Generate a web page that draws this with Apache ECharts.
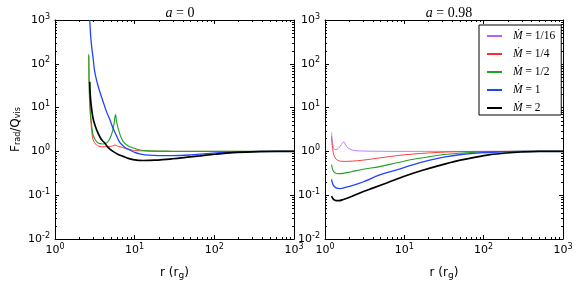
<!DOCTYPE html>
<html>
<head>
<meta charset="utf-8">
<script src="https://cdn.jsdelivr.net/npm/echarts/dist/echarts.min.js"></script>
<style>html,body{margin:0;padding:0;background:#fff}#c{width:581px;height:289px}</style>
</head>
<body>
<div id="c"></div>
<script>
// ---- data: [r (r_g), F_rad/Q_vis] ----
const a0_Mdot1_4 = [[2.66,150],[2.7,30],[2.78,7],[2.9,2.8],[3.0,1.87],[3.31,1.4],[3.83,1.28],[4.63,1.28],[5.3,1.33],[5.65,1.4],[6.1,1.32],[7.15,1.22],[8.5,1.1],[10,1.05],[14,1.02],[25,1.0],[100,1.0],[1000,1.0]];
const a0_Mdot1_2 = [[2.65,165],[2.66,80],[2.67,39],[2.72,14],[2.79,6.9],[2.88,4],[3.0,2.4],[3.2,1.85],[3.47,1.55],[4.0,1.48],[4.43,1.55],[4.8,1.85],[5.11,2.4],[5.45,3.8],[5.74,6.9],[5.95,4.6],[6.2,3.4],[6.6,2.3],[7.15,1.7],[8.2,1.35],[9.55,1.2],[11.6,1.08],[15,1.03],[30,1.01],[100,1.0],[1000,1.0]];
const a0_Mdot1 = [[2.73,1000],[2.8,450],[2.87,270],[3.0,140],[3.15,66],[3.4,36],[3.65,23],[4.0,14],[4.43,8.1],[4.9,5.2],[5.35,3.4],[5.9,2.3],[6.5,1.6],[7.5,1.25],[8.7,1.08],[10,0.95],[12,0.87],[15,0.82],[20,0.8],[30,0.8],[50,0.83],[80,0.89],[120,0.94],[200,0.98],[400,1.0],[1000,1.0]];
const a0_Mdot2 = [[2.73,39],[2.76,22],[2.81,14],[2.9,8.5],[3.0,5.7],[3.2,3.8],[3.47,2.6],[3.8,1.9],[4.21,1.55],[4.7,1.2],[5.35,1.0],[6.2,0.85],[7.15,0.77],[8.2,0.7],[9.55,0.65],[12.7,0.62],[18,0.63],[30,0.68],[50,0.75],[66,0.79],[100,0.86],[173,0.94],[300,0.98],[600,1.0],[1000,1.0]];

const a98_Mdot1_16 = [[1.21,2.7],[1.24,1.6],[1.28,1.2],[1.33,1.1],[1.42,1.12],[1.52,1.25],[1.62,1.45],[1.72,1.65],[1.82,1.4],[1.95,1.2],[2.2,1.08],[2.6,1.03],[4,1.01],[10,1.0],[100,1.0],[1000,1.0]];
const a98_Mdot1_4 = [[1.21,2.2],[1.23,1.4],[1.27,0.95],[1.32,0.75],[1.4,0.65],[1.55,0.6],[1.8,0.59],[2.2,0.6],[3,0.63],[4.9,0.71],[8,0.8],[12.9,0.87],[20,0.92],[35,0.97],[60,0.99],[120,1.0],[1000,1.0]];
const a98_Mdot1_2 = [[1.21,0.5],[1.24,0.4],[1.28,0.35],[1.35,0.32],[1.45,0.31],[1.7,0.315],[2.1,0.34],[3,0.39],[4.9,0.45],[8,0.55],[13,0.66],[20,0.75],[34,0.86],[60,0.93],[89,0.96],[150,0.99],[300,1.0],[1000,1.0]];
const a98_Mdot1 = [[1.21,0.23],[1.25,0.18],[1.3,0.16],[1.4,0.145],[1.55,0.142],[1.8,0.15],[2.3,0.17],[3,0.2],[4.9,0.29],[8,0.38],[13,0.5],[21,0.63],[34,0.76],[55,0.86],[90,0.93],[150,0.97],[300,1.0],[1000,1.0]];
const a98_Mdot2 = [[1.21,0.095],[1.25,0.085],[1.3,0.079],[1.4,0.075],[1.5,0.075],[1.7,0.08],[2.2,0.095],[3,0.12],[4,0.145],[6,0.19],[10,0.27],[17,0.37],[28,0.48],[45,0.6],[74,0.72],[120,0.84],[193,0.92],[300,0.97],[500,1.0],[1000,1.0]];

const seriesNames = ['1/16','1/4','1/2','1','2'];
const xMinorTicks = [2,3,4,5,6,7,8,9,20,30,40,50,60,70,80,90,200,300,400,500,600,700,800,900];
const yMinorTicks = [0.02,0.03,0.04,0.05,0.06,0.07,0.08,0.09,0.2,0.3,0.4,0.5,0.6,0.7,0.8,0.9,2,3,4,5,6,7,8,9,20,30,40,50,60,70,80,90,200,300,400,500,600,700,800,900];
const titles = ['0','0.98'];

// ---- styling ----
const colors = {'1/16':'#b060ff','1/4':'#ff2a2a','1/2':'#22a022','1':'#2244ff','2':'#000000'};
const widths = {'1/16':0.8,'1/4':0.9,'1/2':1.1,'1':1.3,'2':1.7};
const SANS = 'DejaVu Sans';
const SERIF = 'Liberation Serif, DejaVu Serif, serif';

const labelRich = {
  b:{fontFamily:SANS,fontSize:11,color:'#000',lineHeight:15},
  s:{fontFamily:SANS,fontSize:8,color:'#000',verticalAlign:'top',lineHeight:8}
};
function powLabel(v){
  const e = Math.round(Math.log10(v));
  return '{b|10}{s|' + e + '}';
}

const chart = echarts.init(document.getElementById('c'), null, {renderer:'canvas'});

function xAxisDef(grid, pos, showLabel){
  return {
    type:'log', logBase:10, min:1, max:1000, gridIndex:grid, position:pos,
    axisLine:{show:true, lineStyle:{color:'#000', width:1}},
    axisTick:{show:true, inside:true, length:4, lineStyle:{color:'#000', width:1}},
    axisLabel:{show:showLabel, formatter:powLabel, rich:labelRich, margin:4},
    splitLine:{show:false},
    name: showLabel ? '{b|r (r}{sub|g}{b|)}' : '',
    nameLocation:'middle', nameGap:26,
    nameTextStyle:{rich:{b:{fontFamily:SANS,fontSize:12,color:'#000'},sub:{fontFamily:SANS,fontSize:9,color:'#000',verticalAlign:'bottom',padding:[6,0,0,0]}}}
  };
}
function yAxisDef(grid, pos, showLabel, showName){
  return {
    type:'log', logBase:10, min:0.01, max:1000, gridIndex:grid, position:pos,
    axisLine:{show:true, lineStyle:{color:'#000', width:1}},
    axisTick:{show:true, inside:true, length:4, lineStyle:{color:'#000', width:1}},
    axisLabel:{show:showLabel, formatter:powLabel, rich:labelRich, margin:5},
    splitLine:{show:false},
    name: showName ? '{b|F}{sub|rad}{b|/Q}{sub|vis}' : '',
    nameLocation:'middle', nameGap:33, nameRotate:90,
    nameTextStyle:{rich:{b:{fontFamily:SANS,fontSize:12,color:'#000'},sub:{fontFamily:SANS,fontSize:8,color:'#000',verticalAlign:'bottom',padding:[5,0,0,0]}}}
  };
}

function lineSeries(name, data, xi, yi){
  return {
    type:'line', name:name, data:data, xAxisIndex:xi, yAxisIndex:yi,
    showSymbol:false, symbol:'none', smooth:0.35, clip:true,
    lineStyle:{color:colors[name], width:widths[name]},
    itemStyle:{color:colors[name]}, z:3
  };
}

function minorSeries(xi, yi){
  return [
    {
      type:'custom', xAxisIndex:xi, yAxisIndex:yi, silent:true, clip:false, z:4,
      data: xMinorTicks.map(v=>[v,1]),
      renderItem:function(params, api){
        const cs = params.coordSys;
        const x = Math.round(api.coord([api.value(0),1])[0]) + 0.5;
        const st = {stroke:'#000', lineWidth:1};
        return {type:'group', children:[
          {type:'line', shape:{x1:x,y1:cs.y+cs.height,x2:x,y2:cs.y+cs.height-2}, style:st},
          {type:'line', shape:{x1:x,y1:cs.y,x2:x,y2:cs.y+2}, style:st}
        ]};
      }
    },
    {
      type:'custom', xAxisIndex:xi, yAxisIndex:yi, silent:true, clip:false, z:4,
      data: yMinorTicks.map(v=>[10,v]),
      renderItem:function(params, api){
        const cs = params.coordSys;
        const y = Math.round(api.coord([10,api.value(1)])[1]) + 0.5;
        const st = {stroke:'#000', lineWidth:1};
        return {type:'group', children:[
          {type:'line', shape:{x1:cs.x,y1:y,x2:cs.x+2,y2:y}, style:st},
          {type:'line', shape:{x1:cs.x+cs.width,y1:y,x2:cs.x+cs.width-2,y2:y}, style:st}
        ]};
      }
    }
  ];
}

const titleRich = {
  i:{fontFamily:SERIF,fontStyle:'italic',fontWeight:'normal',fontSize:14,color:'#000'},
  n:{fontFamily:SERIF,fontWeight:'normal',fontSize:14,color:'#000'}
};

const option = {
  animation:false,
  backgroundColor:'#fff',
  title: titles.map((t,k)=>({
    text:'{i|a}{n| = ' + t + '}', left: k===0 ? 175 : 444, top:1, textAlign:'center',
    textStyle:{fontWeight:'normal', rich:titleRich}
  })),
  grid:[
    {left:55, top:20, width:239, height:219},
    {left:325, top:20, width:238, height:219}
  ],
  xAxis:[xAxisDef(0,'bottom',true), xAxisDef(0,'top',false), xAxisDef(1,'bottom',true), xAxisDef(1,'top',false)],
  yAxis:[yAxisDef(0,'left',true,true), yAxisDef(0,'right',false,false), yAxisDef(1,'left',true,false), yAxisDef(1,'right',false,false)],
  legend:{
    data:seriesNames, orient:'vertical', left:479, top:25,
    itemWidth:15, itemHeight:14, itemGap:6, padding:[5,6,1,7],
    borderColor:'#000', borderWidth:1, backgroundColor:'#fff',
    itemStyle:{opacity:0},
    formatter:function(n){ return '{m|\u1E40}{t| = ' + n + '}'; },
    textStyle:{rich:{
      m:{fontFamily:SERIF,fontStyle:'italic',fontSize:11.5,color:'#000',padding:[0,0,0,6],lineHeight:14},
      t:{fontFamily:SERIF,fontSize:11.5,color:'#000',lineHeight:14}
    }}
  },
  series:[
    lineSeries('1/4', a0_Mdot1_4, 0, 0),
    lineSeries('1/2', a0_Mdot1_2, 0, 0),
    lineSeries('1', a0_Mdot1, 0, 0),
    lineSeries('2', a0_Mdot2, 0, 0),
    lineSeries('1/16', a98_Mdot1_16, 2, 2),
    lineSeries('1/4', a98_Mdot1_4, 2, 2),
    lineSeries('1/2', a98_Mdot1_2, 2, 2),
    lineSeries('1', a98_Mdot1, 2, 2),
    lineSeries('2', a98_Mdot2, 2, 2)
  ].concat(minorSeries(0,0), minorSeries(2,2))
};
chart.setOption(option);
</script>
</body>
</html>
